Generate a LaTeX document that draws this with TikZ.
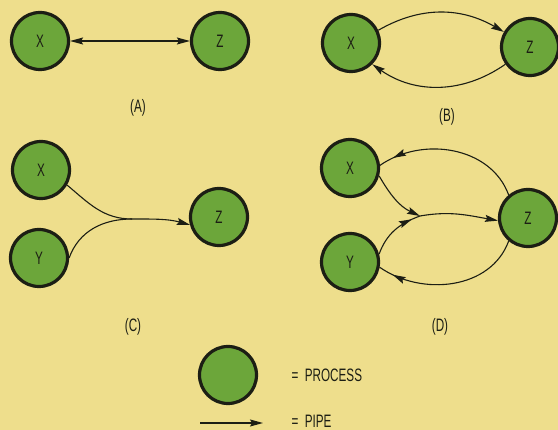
\documentclass[tikz,border=0pt]{standalone}
\usepackage{fontspec}
\setmainfont{Liberation Sans}[FakeStretch=0.65]
\usetikzlibrary{arrows.meta,decorations.markings}
\definecolor{paper}{RGB}{238,222,140}
\definecolor{procgreen}{RGB}{108,166,58}
\definecolor{ink}{RGB}{28,30,20}

\begin{document}
\begin{tikzpicture}[x=1pt, y=1pt,
  proc/.style={circle, draw=ink, line width=3.2pt, fill=procgreen,
               minimum size=57pt, inner sep=0pt,
               font=\fontsize{18}{18}\selectfont, text=ink},
  pipeline/.style={draw=ink, line width=1.1pt},
  pipe/.style={pipeline, -{Stealth[length=13pt,width=7pt,inset=2pt]}},
  tipat/.style={postaction={decorate}, decoration={markings,
      mark=at position #1 with {\arrow{Stealth[length=13pt,width=7pt,inset=2pt]}}}},
  caption/.style={font=\fontsize{18}{18}\selectfont, text=ink},
]
  \useasboundingbox[fill=paper] (0,0) rectangle (558,-430);

  % (A)
  \node[proc] (xa) at (40,-41) {X};
  \node[proc] (za) at (220,-41) {Z};
  \draw[pipeline, {Stealth[length=13pt,width=7pt,inset=2pt]}-{Stealth[length=13pt,width=7pt,inset=2pt]}]
    (xa) -- (za);
  \node[caption] (capa) at (138,-108) {(A)};

  % (B)
  \node[proc] (xb) at (351,-43) {X};
  \node[proc] (zb) at (530,-47) {Z};
  \draw[pipe] (xb.25) to[out=30, in=150] (zb.150);
  \draw[pipe] (zb.215) to[out=215, in=-35] (xb.-45);
  \node[caption] (capb) at (447,-117) {(B)};

  % (C)
  \node[proc] (xc) at (41,-170) {X};
  \node[proc] (yc) at (39,-258) {Y};
  \node[proc] (zc) at (219,-217) {Z};
  \coordinate (mc) at (132,-219);
  \draw[pipeline] (xc.-30) to[out=-40, in=180] (mc);
  \draw[pipeline] (yc.0) to[out=70, in=180] (mc);
  \draw[pipe] (mc) to[out=0, in=165] (zc.195);
  \node[caption] (capc) at (133,-327) {(C)};

  % (D)
  \node[proc] (xd) at (350,-168) {X};
  \node[proc] (yd) at (350,-262) {Y};
  \node[proc] (zd) at (528,-218) {Z};
  \coordinate (md) at (420,-216);
  \draw[pipe] (xd.-15) to[out=-60, in=155] (md);
  \draw[pipeline, tipat=0.85] (yd.15) to[out=70, in=200] (md);
  \draw[pipe] (md) to[out=10, in=170] (zd.185);
  \draw[pipeline, tipat=0.9] (zd.130) to[out=110, in=35] (xd.5);
  \draw[pipeline, tipat=0.9] (zd.-130) to[out=-110, in=-35] (yd.-10);
  \node[caption] (capd) at (440,-327) {(D)};

  % legend
  \node[proc] (legproc) at (228,-375) {};
  \node[caption, anchor=west] (legproct) at (288,-375) {=~~PROCESS};
  \coordinate (pipea) at (200,-423);
  \coordinate (pipeb) at (263,-423);
  \draw[pipe] (pipea) -- (pipeb);
  \node[caption, anchor=west] (legpipet) at (288,-421) {=~~PIPE};
\end{tikzpicture}
\end{document}
